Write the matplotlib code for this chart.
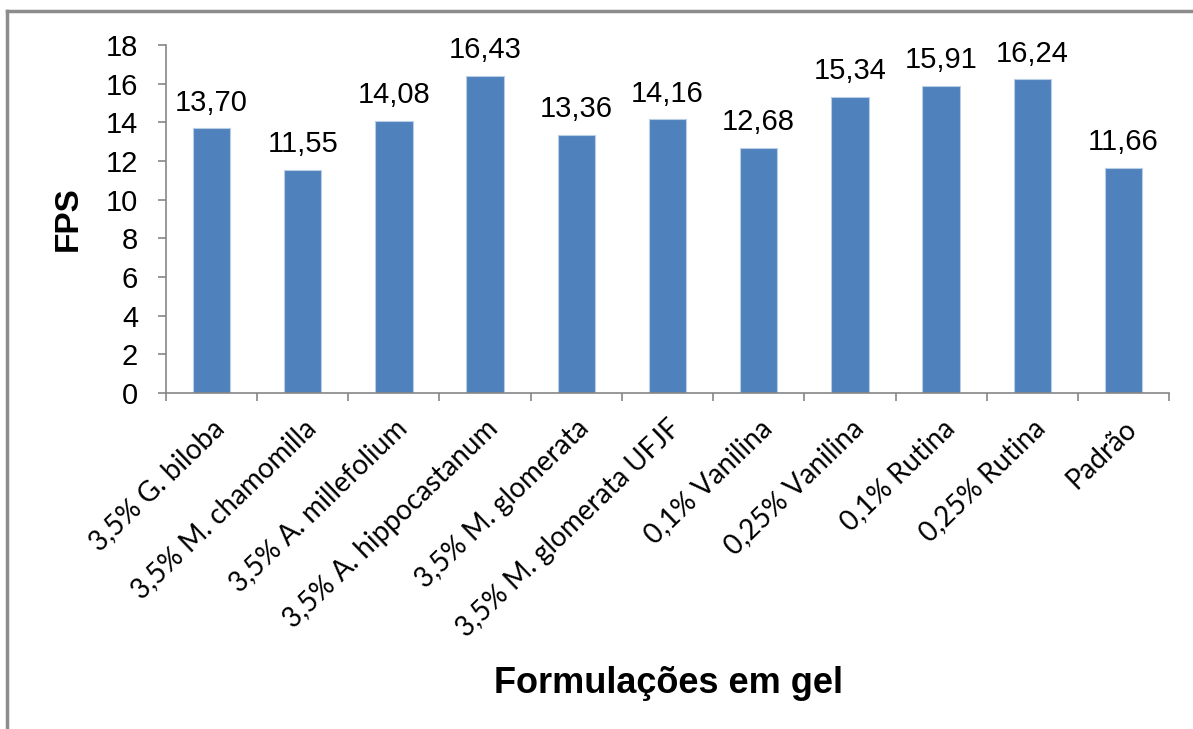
import matplotlib.pyplot as plt
import numpy as np
from matplotlib.lines import Line2D

categories = ['3,5% G. biloba', '3,5% M. chamomilla', '3,5% A. millefolium',
              '3,5% A. hippocastanum', '3,5% M. glomerata', '3,5% M. glomerata UFJF',
              '0,1% Vanilina', '0,25% Vanilina', '0,1% Rutina', '0,25% Rutina', 'Padrão']
fps = [13.70, 11.55, 14.08, 16.43, 13.36, 14.16, 12.68, 15.34, 15.91, 16.24, 11.66]

fig = plt.figure(figsize=(11.93, 7.29), dpi=100)
ax = fig.add_axes([0.139, 0.461, 0.841, 0.477])

x = np.arange(len(categories))
bars = ax.bar(x, fps, width=0.41, color='#4F81BD', edgecolor='#B9CDE5', linewidth=0.8, zorder=2)

# rótulos dos valores
for b, v in zip(bars, fps):
    ax.text(b.get_x() + b.get_width() / 2, v + 0.6, f"{v:.2f}".replace('.', ','),
            ha='center', va='bottom', fontsize=21, family='Liberation Sans')

ax.set_xlim(-0.5, len(categories) - 0.5)
ax.set_ylim(0, 18)
ax.set_yticks(range(0, 19, 2))
ax.set_yticklabels([str(t) for t in range(0, 19, 2)], fontsize=21, family='Liberation Sans')

ax.set_xticks(x)
ax.set_xticklabels(categories, rotation=44, ha='right', rotation_mode='anchor',
                   fontsize=20, family='Lato')
ax.tick_params(axis='x', length=0, pad=16)
# marcas entre categorias
ax.set_xticks(np.arange(-0.5, len(categories), 1), minor=True)
ax.tick_params(axis='x', which='minor', length=6, color='#868686', width=1.2)
ax.tick_params(axis='y', length=6, color='#868686', width=1.2, pad=14)

for s in ['top', 'right']:
    ax.spines[s].set_visible(False)
for s in ['left', 'bottom']:
    ax.spines[s].set_color('#868686')
    ax.spines[s].set_linewidth(1.2)

ax.set_ylabel('FPS', fontsize=24, fontweight='bold', family='Liberation Sans')
ax.yaxis.set_label_coords(-0.082, 0.5)
fig.text(0.56, 0.063, 'Formulações em gel', ha='center', va='center',
         fontsize=26, fontweight='bold', family='Liberation Sans')

# moldura do gráfico
fig.add_artist(Line2D([0.006, 0.006], [0.0, 0.985], color='#8C8C8C', lw=2.5, transform=fig.transFigure))
fig.add_artist(Line2D([0.006, 1.0], [0.985, 0.985], color='#8C8C8C', lw=2.5, transform=fig.transFigure))

plt.savefig('out.png', dpi=100)
